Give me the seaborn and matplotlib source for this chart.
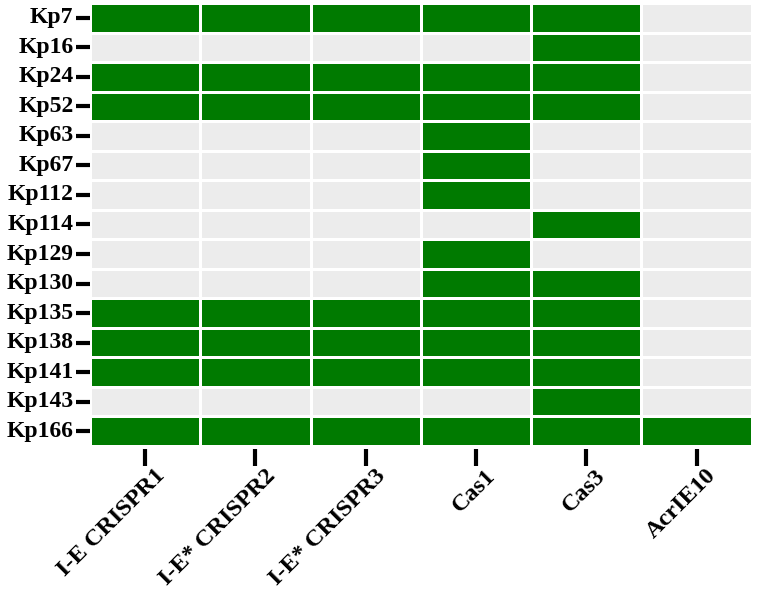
import numpy as np
import pandas as pd
import matplotlib
matplotlib.use("Agg")
import matplotlib.pyplot as plt
import matplotlib.transforms as mtransforms
import seaborn as sns
from matplotlib.colors import ListedColormap

strains = ["Kp7", "Kp16", "Kp24", "Kp52", "Kp63", "Kp67", "Kp112", "Kp114",
           "Kp129", "Kp130", "Kp135", "Kp138", "Kp141", "Kp143", "Kp166"]
features = ["I-E CRISPR1", "I-E* CRISPR2", "I-E* CRISPR3", "Cas1", "Cas3", "AcrIE10"]

# presence (1) / absence (0) per strain, columns in order of `features`
presence = [
    [1, 1, 1, 1, 1, 0],
    [0, 0, 0, 0, 1, 0],
    [1, 1, 1, 1, 1, 0],
    [1, 1, 1, 1, 1, 0],
    [0, 0, 0, 1, 0, 0],
    [0, 0, 0, 1, 0, 0],
    [0, 0, 0, 1, 0, 0],
    [0, 0, 0, 0, 1, 0],
    [0, 0, 0, 1, 0, 0],
    [0, 0, 0, 1, 1, 0],
    [1, 1, 1, 1, 1, 0],
    [1, 1, 1, 1, 1, 0],
    [1, 1, 1, 1, 1, 0],
    [0, 0, 0, 0, 1, 0],
    [1, 1, 1, 1, 1, 1],
]

df = pd.DataFrame(presence, index=strains, columns=features)

sns.set_style("white")
plt.rcParams['font.family'] = ['Liberation Serif', 'DejaVu Serif']
plt.rcParams['font.weight'] = 'bold'

fig = plt.figure(figsize=(7.57, 5.97), dpi=100)
ax = fig.add_axes([0.119, 0.253, 0.874, 0.742])

cmap = ListedColormap(["#ececec", "#007a00"])
sns.heatmap(df, cmap=cmap, vmin=0, vmax=1, cbar=False, linewidths=2,
            linecolor="white", ax=ax)

# hide frame, push x ticks a little below the panel (ggplot-like gap)
for s in ax.spines.values():
    s.set_visible(False)
ax.spines['bottom'].set_position(('outward', 2))

ax.set_xlabel("")
ax.set_ylabel("")
ax.tick_params(axis='y', length=10, width=3, color='black', pad=2,
               labelsize=17, left=True, labelcolor='black')
ax.tick_params(axis='x', length=12, width=3, color='black', pad=2,
               labelsize=17.5, bottom=True, labelcolor='black')
ax.set_yticklabels(strains, rotation=0, fontweight='bold')
ax.set_xticklabels(features, rotation=45, ha='right', rotation_mode='anchor',
                   fontweight='bold')

# nudge rotated labels right so their ends sit just past the ticks
shift = mtransforms.ScaledTranslation(9 / 100, 3 / 100, fig.dpi_scale_trans)
for lab in ax.get_xticklabels():
    lab.set_transform(lab.get_transform() + shift)

fig.savefig("out.png", dpi=100)
